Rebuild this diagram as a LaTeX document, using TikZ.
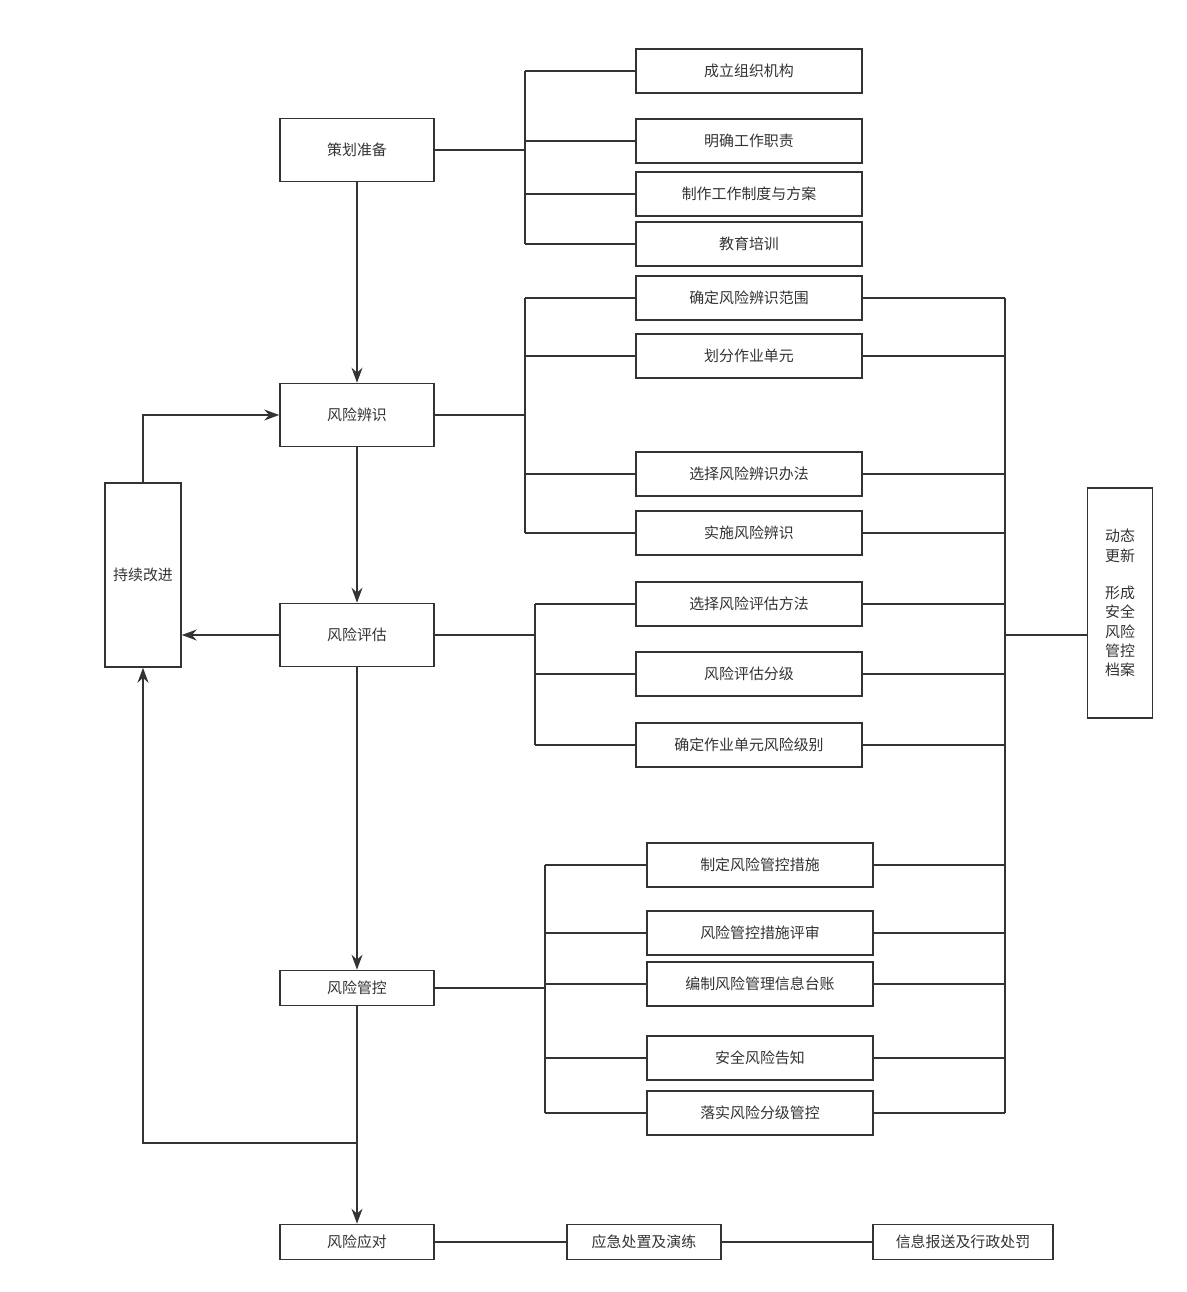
\documentclass[tikz,border=0pt]{standalone}
\usepackage{fontspec}
\setmainfont{Noto Sans CJK SC}
\usetikzlibrary{arrows.meta, positioning}
\definecolor{Ink}{HTML}{333333}
\tikzset{
    box/.style={rectangle, draw=Ink, line width=0.9pt, align=center,
                font=\fontsize{8.5}{11}\selectfont, text=Ink, inner sep=1pt},
    stage/.style={box, minimum width=3.08cm, minimum height=1.26cm},
    stagelow/.style={box, minimum width=3.08cm, minimum height=0.7cm},
    task/.style={box, minimum width=4.52cm, minimum height=0.88cm},
    link/.style={draw=Ink, line width=0.7pt},
    flow/.style={link, -{Stealth[length=3mm,width=2.2mm]}}
}
\begin{document}
\begin{tikzpicture}[x=0.02cm, y=-0.02cm]
    \useasboundingbox (0,0) rectangle (1187,1292);

    % Main stages
    \node[stage] (plan) at (357,150) {策划准备};
    \node[stage] (ident) at (357,415) {风险辨识};
    \node[stage] (assess) at (357,635) {风险评估};
    \node[stagelow] (ctrl) at (357,988) {风险管控};
    \node[stagelow] (resp) at (357,1242) {风险应对};
    \node[box, minimum width=1.52cm, minimum height=3.68cm] (improve) at (143,575) {持续改进};
    \node[box, minimum width=1.3cm, minimum height=4.6cm] (archive) at (1120,603)
        {动态\\更新\\[1.2em]形成\\安全\\风险\\管控\\档案};

    % Task boxes
    \foreach \name/\y/\txt in {a1/71/成立组织机构, a2/141/明确工作职责,
            a3/194/制作工作制度与方案, a4/244/教育培训,
            b1/298/确定风险辨识范围, b2/356/划分作业单元,
            b3/474/选择风险辨识办法, b4/533/实施风险辨识,
            c1/604/选择风险评估方法, c2/674/风险评估分级,
            c3/745/确定作业单元风险级别}
        \node[task] (\name) at (749,\y) {\txt};
    \foreach \name/\y/\txt in {d1/865/制定风险管控措施, d2/933/风险管控措施评审,
            d3/984/编制风险管理信息台账, d4/1058/安全风险告知,
            d5/1113/落实风险分级管控}
        \node[task] (\name) at (760,\y) {\txt};
    \node[box, minimum width=3.08cm, minimum height=0.7cm] (drill) at (644,1242) {应急处置及演练};
    \node[box, minimum width=3.6cm, minimum height=0.7cm] (report) at (963,1242) {信息报送及行政处罚};

    % Branch buses
    \coordinate (busA) at (525,150);
    \coordinate (busB) at (525,415);
    \coordinate (busC) at (535,635);
    \coordinate (busD) at (545,988);
    \draw[link] (plan.east) -- (busA);
    \draw[link] (ident.east) -- (busB);
    \draw[link] (assess.east) -- (busC);
    \draw[link] (ctrl.east) -- (busD);
    \draw[link] (busA |- a1) -- (busA |- a4);
    \draw[link] (busB |- b1) -- (busB |- b4);
    \draw[link] (busC |- c1) -- (busC |- c3);
    \draw[link] (busD |- d1) -- (busD |- d5);
    \foreach \n in {a1,a2,a3,a4} \draw[link] (busA |- \n) -- (\n.west);
    \foreach \n in {b1,b2,b3,b4} \draw[link] (busB |- \n) -- (\n.west);
    \foreach \n in {c1,c2,c3} \draw[link] (busC |- \n) -- (\n.west);
    \foreach \n in {d1,d2,d3,d4,d5} \draw[link] (busD |- \n) -- (\n.west);

    % Archive bus
    \coordinate (busR) at (1005,635);
    \draw[link] (busR |- b1) -- (busR |- d5);
    \foreach \n in {b1,b2,b3,b4,c1,c2,c3,d1,d2,d3,d4,d5}
        \draw[link] (\n.east) -- (busR |- \n);
    \draw[link] (busR) -- (archive.west |- busR);

    % Main flow
    \draw[flow] (plan) -- (ident);
    \draw[flow] (ident) -- (assess);
    \draw[flow] (assess) -- (ctrl);
    \draw[flow] (ctrl) -- (resp);
    \draw[flow] (assess.west) -- (improve.east |- assess);
    \draw[flow] (improve.north) |- (ident.west);
    \coordinate (back) at (357,1143);
    \draw[flow] (back) -| (improve.south);
    \draw[link] (resp) -- (drill) -- (report);
\end{tikzpicture}
\end{document}
